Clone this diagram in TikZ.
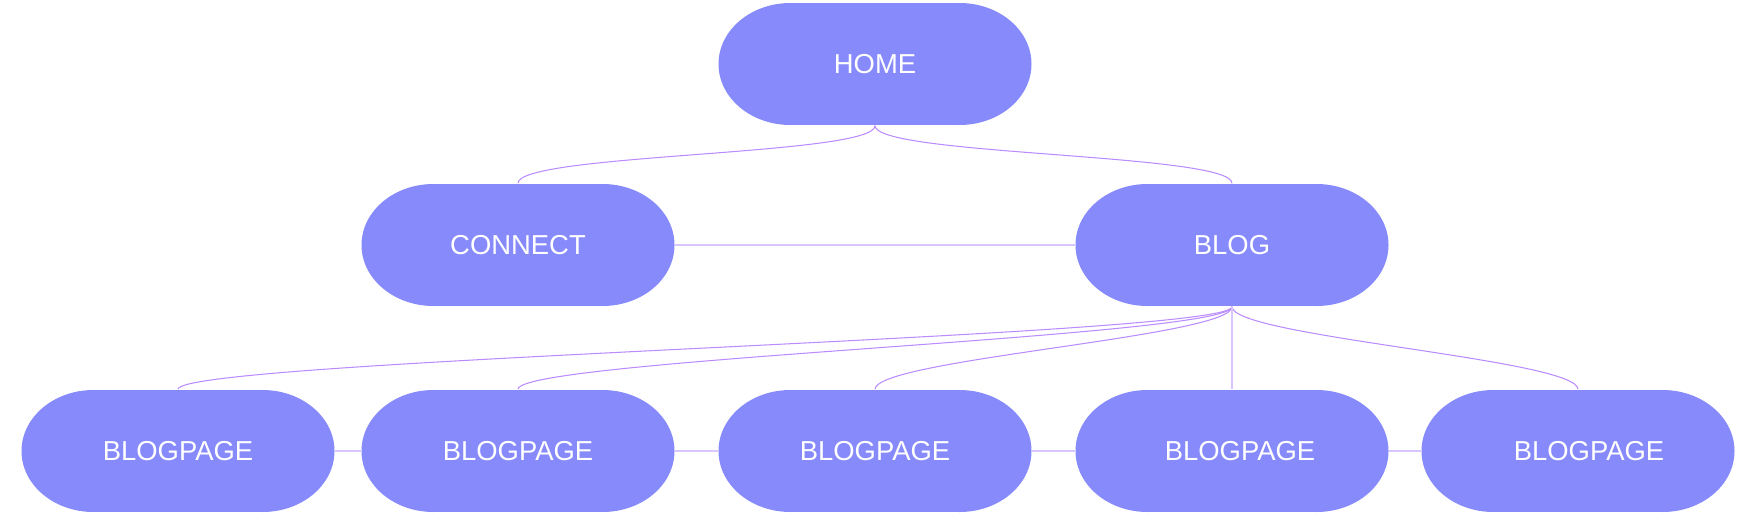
\documentclass[tikz,border=0pt]{standalone}
\usepackage{fontspec}
\setmainfont{Liberation Sans}
\definecolor{boxblue}{RGB}{134,138,250}
\definecolor{linkline}{RGB}{186,140,255}
\definecolor{sideline}{RGB}{218,198,255}
\begin{document}
\begin{tikzpicture}[x=0.1mm,y=-0.1mm,
  page node/.style={rectangle,text=white,font=\fontsize{7.8}{9}\selectfont,minimum width=3.13cm,minimum height=1.22cm,inner sep=0pt,
    path picture={
      \fill[boxblue] ([xshift=0.72cm]path picture bounding box.west) ellipse [x radius=0.72cm,y radius=0.61cm];
      \fill[boxblue] ([xshift=-0.72cm]path picture bounding box.east) ellipse [x radius=0.72cm,y radius=0.61cm];
      \fill[boxblue] ([xshift=0.72cm]path picture bounding box.north west) rectangle ([xshift=-0.72cm]path picture bounding box.south east);}},
  link/.style={draw=linkline,line width=0.3pt,to path={.. controls +(0,30) and +(0,-30) .. (\tikztotarget)}},
  side/.style={draw=sideline,line width=0.6pt}]
  \useasboundingbox (0,0) rectangle (1739,513);

  \node[page node] (0) at (875,64) {HOME};
  \node[page node] (1) at (518,245) {CONNECT};
  \node[page node] (2) at (1232,245) {BLOG};
  \node[page node] (3) at (178,451) {BLOGPAGE};
  \node[page node] (4) at (518,451) {BLOGPAGE};
  \node[page node] (5) at (875,451) {BLOGPAGE};
  \node[page node] (6) at (1232,451) {\hspace*{0.16cm}BLOGPAGE};
  \node[page node] (7) at (1578,451) {\hspace*{0.22cm}BLOGPAGE};

  \path[link]
   (0.south) edge (1.north)
   (0.south) edge (2.north)
   (2.south) edge (3.north)
   (2.south) edge (4.north)
   (2.south) edge (5.north)
   (2.south) edge (7.north);
  \path[side]
   (2.south) edge (6.north)
   (1.east) edge (2.west)
   (3.east) edge (4.west)
   (4.east) edge (5.west)
   (5.east) edge (6.west)
   (6.east) edge (7.west);
\end{tikzpicture}
\end{document}
